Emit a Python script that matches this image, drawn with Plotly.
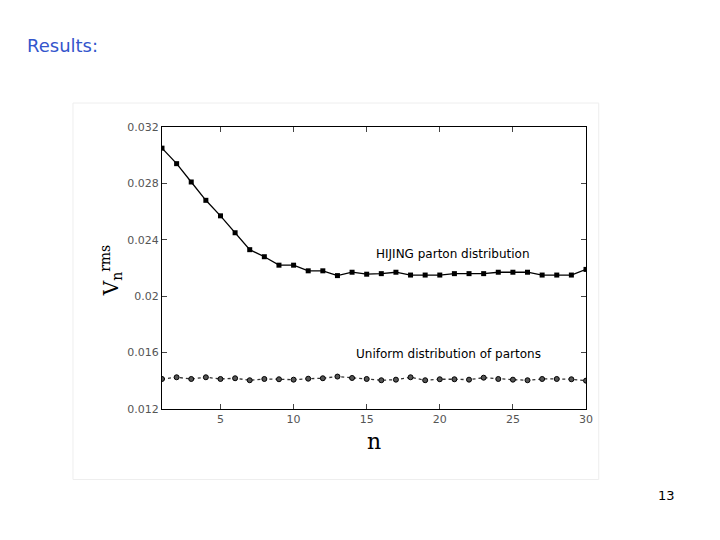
import plotly.graph_objects as go

n = list(range(1, 31))
hijing = [0.0305, 0.0294, 0.0281, 0.0268, 0.0257, 0.0245, 0.0233, 0.0228, 0.0222, 0.0222,
          0.0218, 0.0218, 0.02146, 0.0217, 0.02156, 0.0216, 0.0217, 0.0215, 0.0215, 0.0215,
          0.0216, 0.0216, 0.0216, 0.0217, 0.0217, 0.0217, 0.0215, 0.0215, 0.0215, 0.0219]
uniform = [0.01413, 0.01425, 0.01413, 0.01425, 0.01413, 0.01418, 0.01404, 0.01413, 0.01411, 0.01408,
           0.01415, 0.01418, 0.0143, 0.0142, 0.01413, 0.01404, 0.01408, 0.01425, 0.01404, 0.01411,
           0.01411, 0.01408, 0.01422, 0.01413, 0.01408, 0.01404, 0.01413, 0.01413, 0.01411, 0.01401]
yticks = [0.012, 0.016, 0.02, 0.024, 0.028, 0.032]
ylabels = ["0.012", "0.016", "0.02", "0.024", "0.028", "0.032"]

fig = go.Figure()
fig.add_trace(go.Scatter(x=n, y=hijing, mode="lines+markers",
                         line=dict(color="black", width=1.3),
                         marker=dict(symbol="square", size=5, color="black")))
fig.add_trace(go.Scatter(x=n, y=uniform, mode="lines+markers",
                         line=dict(color="#333", width=1.3, dash="dot"),
                         marker=dict(symbol="circle", size=5, color="#555",
                                     line=dict(color="black", width=1))))

fig.add_annotation(x=20.9, y=0.0230, text="HIJING parton distribution", showarrow=False,
                   font=dict(family="Comic Sans MS, DejaVu Sans", size=12, color="black"))
fig.add_annotation(x=20.6, y=0.0159, text="Uniform distribution of partons", showarrow=False,
                   font=dict(family="Comic Sans MS, DejaVu Sans", size=12, color="black"))

# slide decorations
fig.add_annotation(xref="paper", yref="paper", x=-0.323, y=1.333, text="Results:",
                   showarrow=False, xanchor="left",
                   font=dict(family="Comic Sans MS, DejaVu Sans", size=18, color="#3355cc"))
fig.add_annotation(xref="paper", yref="paper", x=1.215, y=-0.34, text="13",
                   showarrow=False, xanchor="right",
                   font=dict(family="DejaVu Sans", size=13, color="black"))
fig.add_annotation(xref="paper", yref="paper", x=-0.158, y=0.49, text="V<sub>n</sub><sup>rms</sup>",
                   showarrow=False, textangle=-90,
                   font=dict(family="DejaVu Serif", size=20, color="black"))
fig.add_shape(type="rect", xref="paper", yref="paper", x0=-0.21, x1=1.03, y0=-0.25, y1=1.085,
              line=dict(color="#eeeeee", width=1))

fig.update_xaxes(range=[1, 30], tickvals=[5, 10, 15, 20, 25, 30], ticks="inside", ticklen=5,
                 showgrid=False, zeroline=False, showline=True, linecolor="black", mirror="ticks",
                 tickfont=dict(family="DejaVu Sans", size=11, color="#555"),
                 title=dict(text="n", font=dict(family="DejaVu Serif", size=22, color="black"), standoff=8))
fig.update_yaxes(range=[0.012, 0.032], tickvals=yticks, ticktext=ylabels, ticks="inside", ticklen=5,
                 showgrid=False, zeroline=False, showline=True, linecolor="black", mirror="ticks",
                 tickfont=dict(family="DejaVu Sans", size=11, color="#555"))
fig.update_layout(width=720, height=540, showlegend=False, plot_bgcolor="white", paper_bgcolor="white",
                  margin=dict(l=154, r=142, t=119, b=139))
fig.write_html("out.html")
